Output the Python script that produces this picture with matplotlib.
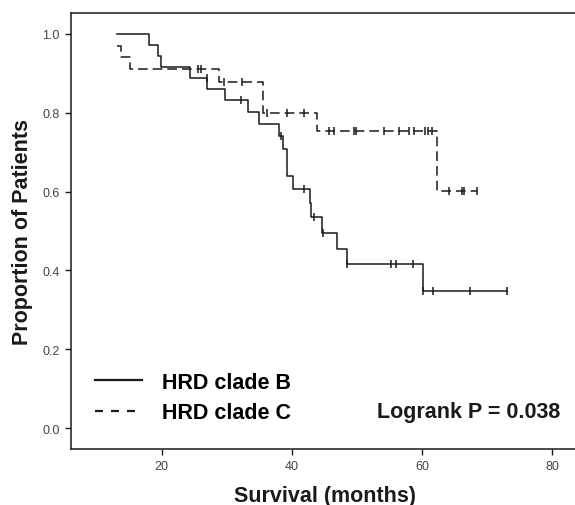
import matplotlib
matplotlib.use("Agg")
import matplotlib.pyplot as plt
import numpy as np
from matplotlib.lines import Line2D

# Kaplan-Meier steps (months, survival proportion)
B_TIMES = [13.1, 18.0, 19.4, 19.9, 24.4, 27.0, 29.8, 33.3, 35.0, 38.0, 38.6,
           39.2, 39.3, 40.2, 42.8, 43.0, 44.6, 47.0, 48.5, 60.2, 73.1]
B_SURV = [1.0, 0.972, 0.944, 0.917, 0.889, 0.861, 0.833, 0.801, 0.771, 0.740,
          0.708, 0.672, 0.640, 0.607, 0.570, 0.536, 0.496, 0.455, 0.415, 0.347,
          0.347]
B_CENSOR = [26.9, 32.2, 38.3, 41.9, 43.4, 44.8, 48.5, 55.2, 56.0, 58.6,
            60.2, 61.6, 67.3, 73.1]

C_TIMES = [13.1, 13.8, 15.2, 28.8, 35.6, 43.8, 62.3, 68.5]
C_SURV = [0.970, 0.941, 0.911, 0.877, 0.799, 0.754, 0.601, 0.601]
C_CENSOR = [25.5, 26.0, 29.6, 32.4, 36.2, 39.2, 41.9, 45.7, 46.5, 49.6, 49.9,
            54.2, 56.5, 58.0, 58.8, 60.4, 60.9, 61.5, 64.2, 66.1, 66.5, 68.5]

LABELS = ["HRD clade B", "HRD clade C"]
X_TICKS = [20, 40, 60, 80]
Y_TICKS = [0.0, 0.2, 0.4, 0.6, 0.8, 1.0]

INK = "#1a1a1a"
TICK_INK = "#444444"
DASH = (0, (6.3, 3.3))

plt.rcParams["font.family"] = ["Liberation Sans", "DejaVu Sans"]


def level_at(times, surv, t):
    i = np.searchsorted(times, t, side="right") - 1
    return surv[max(i, 0)]


fig = plt.figure(figsize=(5.75, 5.06), dpi=100)
ax = fig.add_axes([0.1235, 0.1107, 0.8823, 0.8617])

ax.step(B_TIMES, B_SURV, where="post", color=INK, lw=1.1)
ax.plot(B_CENSOR, [level_at(B_TIMES, B_SURV, t) for t in B_CENSOR],
        ls="none", marker="|", ms=6, mew=1.1, color=INK)

ax.step(C_TIMES, C_SURV, where="post", color=INK, lw=1.1, linestyle=DASH)
ax.plot(C_CENSOR, [level_at(C_TIMES, C_SURV, t) for t in C_CENSOR],
        ls="none", marker="|", ms=6, mew=1.1, color=INK)

ax.set_xlim(6.07, 84.0)
ax.set_ylim(-0.053, 1.053)
ax.set_xticks(X_TICKS)
ax.set_yticks(Y_TICKS)
ax.set_yticklabels([f"{v:.1f}" for v in Y_TICKS])
ax.tick_params(direction="out", length=4, width=1.0, color=INK,
               labelsize=9, labelcolor=TICK_INK, pad=4)
for s in ax.spines.values():
    s.set_linewidth(1.1)
    s.set_color(INK)

ax.set_xlabel("Survival (months)", fontsize=15.5, fontweight="bold",
              labelpad=9, color=INK)
ax.set_ylabel("Proportion of Patients", fontsize=15.5, fontweight="bold",
              labelpad=7, color=INK)

handles = [Line2D([], [], color=INK, lw=1.6),
           Line2D([], [], color=INK, lw=1.6, linestyle=(0, (3.6, 3.6)))]
ax.legend(handles, LABELS, loc="lower left", bbox_to_anchor=(0.038, 0.049),
          frameon=False, prop={"size": 15.5, "weight": "bold"},
          handlelength=2.2, handletextpad=0.95, labelspacing=0.45,
          borderpad=0.2, borderaxespad=0)

ax.text(0.965, 0.085, "Logrank P = 0.038", transform=ax.transAxes,
        ha="right", va="center", fontsize=15.5, fontweight="bold", color=INK)

fig.savefig("out.png", dpi=100)
